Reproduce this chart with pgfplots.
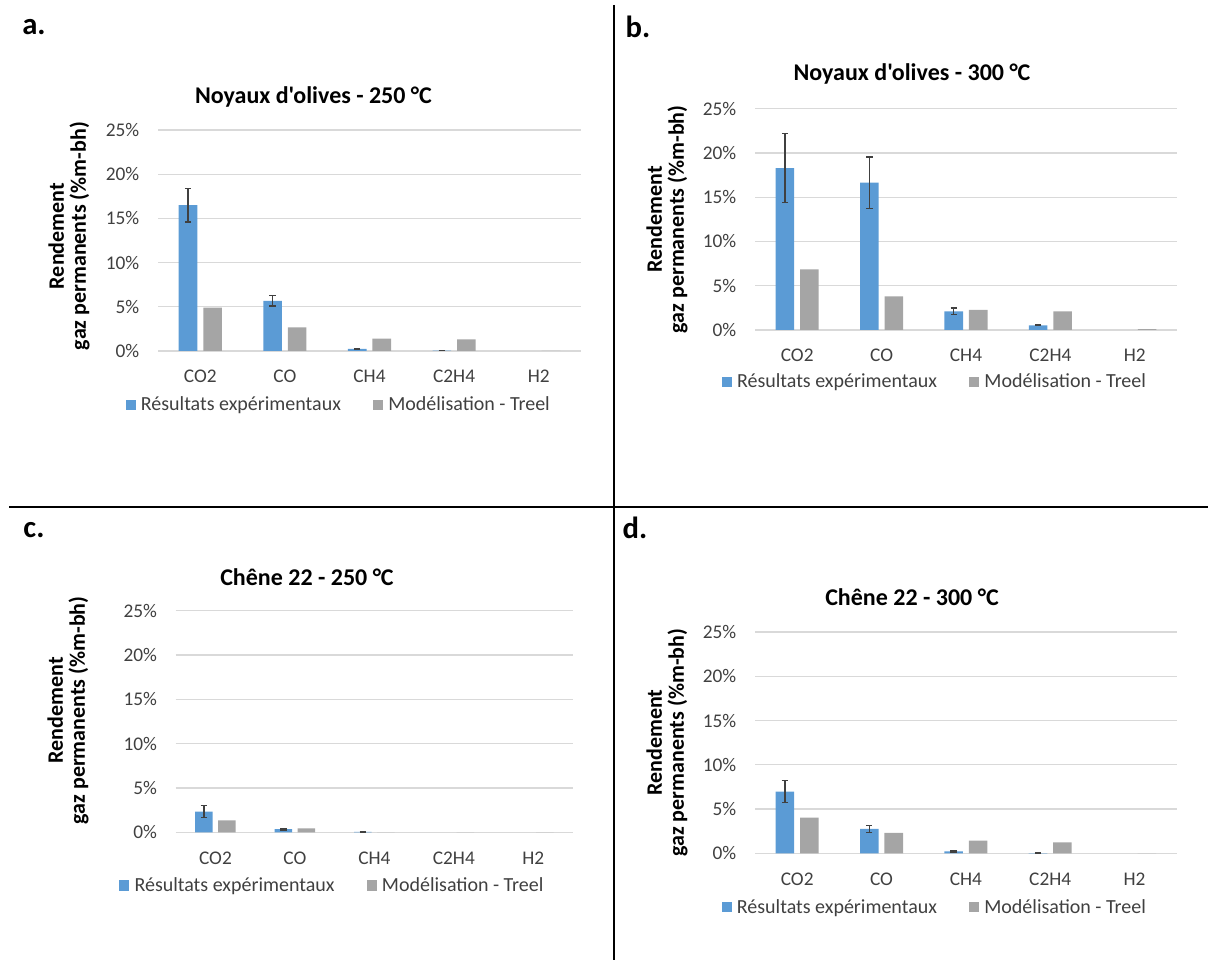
\documentclass[border=0pt]{standalone}
\usepackage{fontspec}
\setmainfont{Carlito}[Ligatures=TeXOff]
\usepackage{pgfplots}
\pgfplotsset{compat=1.18}
\definecolor{cblue}{HTML}{5B9BD5}
\definecolor{cgray}{HTML}{A5A5A5}
\definecolor{cgrid}{HTML}{D9D9D9}
\definecolor{ctext}{HTML}{404040}

\pgfplotsset{
  panel/.style={
    scale only axis,
    anchor=south west,
    xmin=-0.5, xmax=4.5, ymin=0, ymax=25,
    xtick={0,1,2,3,4}, xticklabels={CO2,CO,CH4,C2H4,H2},
    ytick={0,5,10,15,20,25},
    yticklabel={\pgfmathprintnumber{\tick}\%},
    /pgf/number format/assume math mode=true,
    major tick length=0pt,
    tick style={draw=none},
    axis line style={draw=none},
    ymajorgrids, grid style={cgrid, line width=0.9pt},
    tick label style={font=\fontsize{14.5}{16}\selectfont, text=ctext},
    xticklabel style={yshift=-11pt},
    yticklabel style={xshift=-10.5pt},
    ylabel={Rendement\\gaz permanents (\%m-bh)},
    ylabel style={align=center, font=\bfseries\fontsize{16.5}{16.5}\selectfont, anchor=center},
    legend columns=2,
    legend style={draw=none, fill=none, anchor=center,
      font=\fontsize{15}{17}\selectfont, text=ctext,
      /tikz/every even column/.append style={column sep=22pt},
      /tikz/every odd column/.append style={column sep=0pt}},
    legend image code/.code={\fill[##1] (0pt,-3.8pt) rectangle (7.6pt,3.8pt); \path (9.5pt,0pt);},
    legend cell align=left,
  },
  bblue/.style={ybar, bar width=0.22, bar shift=0pt, fill=cblue, draw=none,
    error bars/.cd, y dir=both, y explicit,
    error bar style={ctext, line width=0.9pt},
    error mark options={ctext, line width=0.9pt, mark size=2.4pt, rotate=90}},
  bgray/.style={ybar, bar width=0.22, bar shift=0pt, fill=cgray, draw=none},
}

\begin{document}
\begin{tikzpicture}
\useasboundingbox (0pt,0pt) rectangle (906pt,720pt);

% dividing lines
\draw[line width=1.9pt] (460.5pt,716.25pt) -- (460.5pt,0pt);
\draw[line width=1.9pt] (6.75pt,339.75pt) -- (906pt,339.75pt);

% panel letters
\node[font=\bfseries\fontsize{23}{26}\selectfont] at (25.5pt,699.75pt) {a.};
\node[font=\bfseries\fontsize{23}{26}\selectfont] at (478.5pt,699.75pt) {b.};
\node[font=\bfseries\fontsize{23}{26}\selectfont] at (25.5pt,322.5pt) {c.};
\node[font=\bfseries\fontsize{23}{26}\selectfont] at (476.25pt,324pt) {d.};

% titles
\node[font=\bfseries\fontsize{18}{21}\selectfont] at (235.1pt,647.25pt) {Noyaux d'olives - 250 °C};
\node[font=\bfseries\fontsize{18}{21}\selectfont] at (684pt,664.5pt) {Noyaux d'olives - 300 °C};
\node[font=\bfseries\fontsize{18}{21}\selectfont] at (230.25pt,287.25pt) {Chêne 22 - 250 °C};
\node[font=\bfseries\fontsize{18}{21}\selectfont] at (684pt,272.25pt) {Chêne 22 - 300 °C};

% ---------- a ----------
\begin{axis}[panel, at={(118.5pt,456.75pt)}, width=317.25pt, height=165.75pt,
  ylabel style={at={(axis description cs:-0.2104,0.52)}},
  legend style={at={(axis description cs:0.428,-0.244)}}]
\addplot[bblue] coordinates {(-0.145,16.5) +- (0,1.9) (0.855,5.66) +- (0,0.58) (1.855,0.23) +- (0,0.05) (2.855,0.05) +- (0,0.02)};
\addplot[bgray] coordinates {(0.145,4.9) (1.145,2.68) (2.145,1.4) (3.145,1.32) (4.145,0)};
\legend{Résultats expérimentaux, Modélisation - Treel}
\end{axis}

% ---------- b ----------
\begin{axis}[panel, at={(566.25pt,472.5pt)}, width=316.5pt, height=166pt,
  ylabel style={at={(axis description cs:-0.2085,0.5)}},
  legend style={at={(axis description cs:0.427,-0.235)}}]
\addplot[bblue] coordinates {(-0.145,18.27) +- (0,3.9) (0.855,16.65) +- (0,2.9) (1.855,2.1) +- (0,0.38) (2.855,0.53) +- (0,0.05)};
\addplot[bgray] coordinates {(0.145,6.86) (1.145,3.8) (2.145,2.26) (3.145,2.1) (4.145,0.11)};
\legend{Résultats expérimentaux, Modélisation - Treel}
\end{axis}

% ---------- c ----------
\begin{axis}[panel, at={(131.8pt,95.8pt)}, width=298pt, height=166.2pt,
  ylabel style={at={(axis description cs:-0.271,0.55)}},
  legend style={at={(axis description cs:0.395,-0.24)}}]
\addplot[bblue] coordinates {(-0.145,2.33) +- (0,0.68) (0.855,0.34) +- (0,0.08) (1.855,0.05) +- (0,0.03)};
\addplot[bgray] coordinates {(0.145,1.35) (1.145,0.45) (2.145,0) (3.145,0) (4.145,0)};
\legend{Résultats expérimentaux, Modélisation - Treel}
\end{axis}

% ---------- d ----------
\begin{axis}[panel, at={(566.25pt,80pt)}, width=316.3pt, height=166pt,
  ylabel style={at={(axis description cs:-0.2087,0.5)}},
  legend style={at={(axis description cs:0.427,-0.244)}}]
\addplot[bblue] coordinates {(-0.145,6.97) +- (0,1.24) (0.855,2.75) +- (0,0.36) (1.855,0.23) +- (0,0.07) (2.855,0.03) +- (0,0.02)};
\addplot[bgray] coordinates {(0.145,4.03) (1.145,2.3) (2.145,1.43) (3.145,1.24) (4.145,0)};
\legend{Résultats expérimentaux, Modélisation - Treel}
\end{axis}
\end{tikzpicture}
\end{document}
